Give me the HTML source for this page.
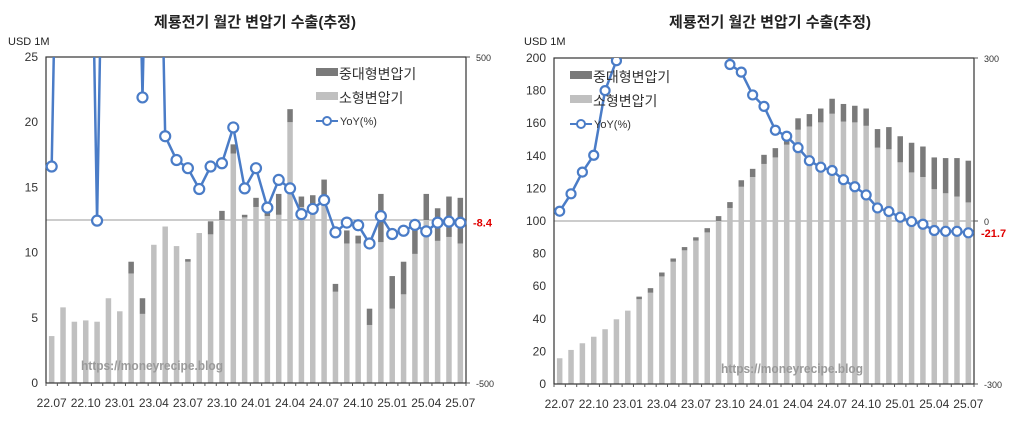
<!DOCTYPE html>
<html><head><meta charset="utf-8">
<style>
html,body{margin:0;padding:0;background:#fff;}
svg{display:block;font-family:"Liberation Sans","Noto Sans CJK KR",sans-serif;}
</style></head>
<body>
<svg id="svg" width="1024" height="445" viewBox="0 0 1024 445"></svg>
<script>
const categories = ["22.07","22.08","22.09","22.10","22.11","22.12","23.01","23.02","23.03","23.04","23.05","23.06","23.07","23.08","23.09","23.10","23.11","23.12","24.01","24.02","24.03","24.04","24.05","24.06","24.07","24.08","24.09","24.10","24.11","24.12","25.01","25.02","25.03","25.04","25.05","25.06","25.07"];
const tickLabels = ["22.07","22.10","23.01","23.04","23.07","23.10","24.01","24.04","24.07","24.10","25.01","25.04","25.07"];
// Left chart: monthly
const monthlySmall = [3.6,5.8,4.7,4.8,4.7,6.5,5.5,8.4,5.3,10.6,12.0,10.5,9.3,11.5,11.4,12.5,17.6,12.7,13.5,12.8,12.9,20.0,13.5,13.0,14.0,7.0,10.7,10.7,4.45,10.8,5.7,6.8,9.9,12.5,10.9,11.2,10.7];
const monthlyTotal = [3.6,5.8,4.7,4.8,4.7,6.5,5.5,9.3,6.5,10.6,12.0,10.5,9.5,11.5,12.4,13.2,18.3,12.9,14.2,13.2,14.5,21.0,14.3,14.4,15.6,7.6,11.7,11.3,5.7,14.5,8.2,9.3,11.7,14.5,13.4,14.3,14.2];
const monthlyYoY = [164,2000,2000,2000,-2,2000,2000,2000,376,2000,257,184,159,95,164,174,284,97,159,38,123,97,18,34,61,-38,-8,-16,-72,12,-43,-33,-15,-35,-8,-5,-8.4];
// Right chart: cumulative 12M
const cumSmall = [15.8,20.9,25,29,33.6,39.7,45,52,56,66,75,82,88,93,100,108,121,127,135,139,146.8,156,158,160.5,165.8,161,160.5,158.4,145,144,136,129.8,127,119.5,117,115,111.4];
const cumTotal = [15.8,20.9,25,29,33.6,39.7,45,53.6,58.8,68.4,77,84,90,95.6,103,111.6,125,132,140.6,144.7,152,163,165.6,169,175,171.8,170.7,169,156.4,157.6,152,148,145.7,139,138.6,138.6,137];
const cumYoY = [18,50,90,121,240,295,600,600,600,600,600,600,600,600,600,288,274,232,211,167,156,135,111,99,93,76,63,48,24,17.5,7,-1,-6,-17.5,-19,-19,-21.7];
const leftTicks = [0,5,10,15,20,25];
const leftRTicks = ["500","-500"];
const rightTicks = [0,20,40,60,80,100,120,140,160,180,200];
const rightRTicks = ["300","0","-300"];

const NS="http://www.w3.org/2000/svg";
const svg=document.getElementById('svg');
function mk(tag,attrs,parent){const e=document.createElementNS(NS,tag);for(const k in attrs)e.setAttribute(k,attrs[k]);(parent||svg).appendChild(e);return e;}

function drawChart(o){
  const g=mk('g',{});
  
  
  const {x0,x1,y0,y1,ymax,rmin,rmax}=o;
  const n=categories.length;
  const step=(x1-x0)/n;
  const xs=i=>x0+step*(i+0.5);
  const yL=v=>y1-(v/ymax)*(y1-y0);
  const yR=v=>y1-(v-rmin)/(rmax-rmin)*(y1-y0);
  const t=mk('text',{x:o.titleX,y:27,'text-anchor':'middle','font-size':15,'font-weight':'bold',fill:'#222'},g);
  t.textContent='제룡전기 월간 변압기 수출(추정)';
  
  
  const u=mk('text',{x:o.unitX,y:45,'font-size':11,fill:'#222'},g);
  u.textContent='USD 1M';
  
  
  o.lt.forEach(v=>{
    const tx=mk('text',{x:x0-8,y:yL(v)+4,'text-anchor':'end','font-size':12,fill:'#333'},g);
    tx.textContent=v;
    
    
  });
  mk('line',{x1:x0,x2:x1,y1:yR(0),y2:yR(0),stroke:'#999','stroke-width':1},g);
  for(let i=0;i<n;i++){
    const bw=5.5;
    const b1=mk('rect',{x:xs(i)-bw/2,y:yL(o.small[i]),width:bw,height:y1-yL(o.small[i]),fill:'#c0c0c0'},g);
    
    
    const d=o.total[i]-o.small[i];
    if(d>0){
      const b2=mk('rect',{x:xs(i)-bw/2,y:yL(o.total[i]),width:bw,height:yL(o.small[i])-yL(o.total[i]),fill:'#7a7a7a'},g);
      
      
    }
  }
  const w=mk('text',{x:o.wmX,y:o.wmY,'font-size':13,'font-weight':'bold',fill:'#9a9a9a',textLength:142,lengthAdjust:'spacingAndGlyphs'},g);
  w.textContent='https://moneyrecipe.blog';
  
  
  mk('rect',{x:x0,y:y0,width:x1-x0,height:y1-y0,fill:'none',stroke:'#333','stroke-width':1.2},g);
  for(let i=0;i<=n;i++){mk('line',{x1:x0+step*i,x2:x0+step*i,y1:y1,y2:y1+3,stroke:'#555'},g);}
  categories.forEach((c,i)=>{
    if(tickLabels.includes(c)){
      const tx=mk('text',{x:xs(i),y:y1+24,'text-anchor':'middle','font-size':12,fill:'#333'},g);
      tx.textContent=c;
      
      
    }
  });
  o.rt.forEach(s=>{
    const v=parseFloat(s);
    mk('line',{x1:x1,x2:x1+4,y1:yR(v),y2:yR(v),stroke:'#555'},g);
    const tx=mk('text',{x:x1+10,y:yR(v)+4,'font-size':9,fill:'#333'},g);
    tx.textContent=s;
    
    
  });
  const cid='clip'+o.name;
  const cp=mk('clipPath',{id:cid},g);mk('rect',{x:x0-10,y:y0,width:x1-x0+20,height:y1-y0},cp);
  const lg=mk('g',{'clip-path':'url(#'+cid+')'},g);
  const pts=o.yoy.map((v,i)=>xs(i)+','+yR(v)).join(' ');
  const pl=mk('polyline',{points:pts,fill:'none',stroke:'#4a7cc7','stroke-width':2.5},lg);
  
  
  o.yoy.forEach((v,i)=>{
    if(v<=rmax&&v>=rmin){
      const c=mk('circle',{cx:xs(i),cy:yR(v),r:o.mr,fill:'#fff',stroke:'#4a7cc7','stroke-width':2.2},lg);
      
      
    }
  });
  const last=o.yoy[n-1];
  const lb=mk('text',{x:x1+7,y:yR(last)+4,'font-size':11,'font-weight':'bold',fill:'#e00000'},g);
  lb.textContent=last;
  
  
  const L=o.leg;
  const lgd=mk('g',{},g);
  
  
  mk('rect',{x:L.x,y:L.y-6,width:22,height:8,fill:'#7a7a7a'},lgd);
  let e=mk('text',{x:L.x+23,y:L.y+5,'font-size':14,fill:'#333'},lgd);e.textContent='중대형변압기';
  
  mk('rect',{x:L.x,y:L.y+18,width:22,height:8,fill:'#c0c0c0'},lgd);
  e=mk('text',{x:L.x+23,y:L.y+29,'font-size':14,fill:'#333'},lgd);e.textContent='소형변압기';
  
  mk('line',{x1:L.x,x2:L.x+22,y1:L.y+47,y2:L.y+47,stroke:'#4a7cc7','stroke-width':2},lgd);
  mk('circle',{cx:L.x+11,cy:L.y+47,r:4,fill:'#fff',stroke:'#4a7cc7','stroke-width':2},lgd);
  e=mk('text',{x:L.x+24,y:L.y+51,'font-size':11,fill:'#333'},lgd);e.textContent='YoY(%)';
  
}

drawChart({name:'monthly-chart',x0:46,x1:466,y0:57,y1:383,ymax:25,rmin:-500,rmax:500,small:monthlySmall,total:monthlyTotal,yoy:monthlyYoY,lt:leftTicks,rt:leftRTicks,titleX:255,unitX:8,wmX:81,wmY:370,mr:5,leg:{x:316,y:74}});
drawChart({name:'cumulative-chart',x0:554,x1:974,y0:58,y1:384,ymax:200,rmin:-300,rmax:300,small:cumSmall,total:cumTotal,yoy:cumYoY,lt:rightTicks,rt:rightRTicks,titleX:770,unitX:524,wmX:721,wmY:373,mr:4.5,leg:{x:570,y:77}});
</script>
</body></html>
